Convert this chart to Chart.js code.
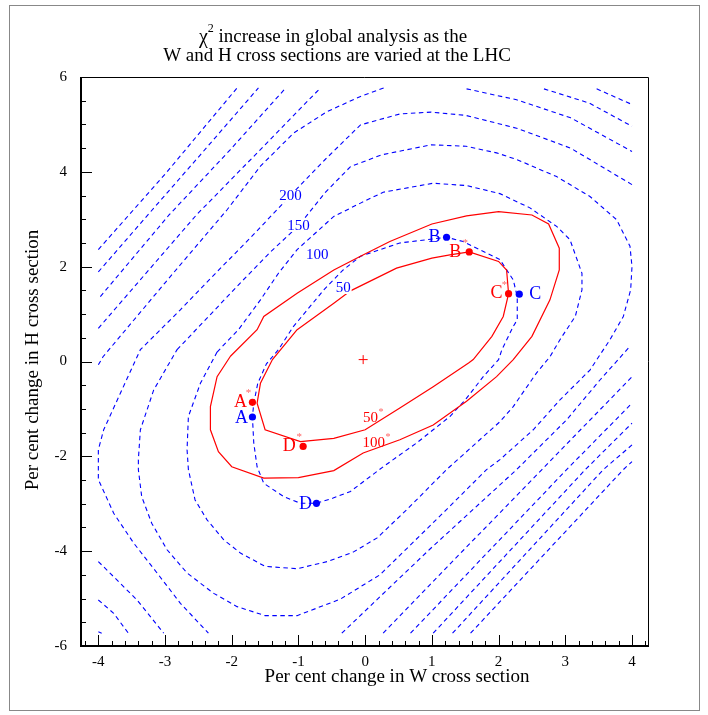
<!DOCTYPE html>
<html>
<head>
<meta charset="utf-8">
<script src="https://cdn.jsdelivr.net/npm/chart.js@4/dist/chart.umd.min.js"></script>
<style>
  html, body { margin: 0; padding: 0; background: #fff; }
</style>
</head>
<body>
<canvas id="chi2Chart" width="708" height="715"></canvas>
<script>
// contour lines, [W change, H change] in per cent
const blue50 = [[-1.08,0.73],[-0.62,1.51],[-0.33,1.93],[-0.07,2.22],[0.52,2.50],[1.22,2.62],[1.47,2.53],[2.02,2.15],[2.22,1.72],[2.28,1.37],[2.28,0.88],[2.22,0.74],[2.05,0.25],[2.0,0.04],[1.77,-0.32],[1.50,-0.81],[1.27,-1.16],[0.77,-1.72],[0.27,-2.22],[-0.22,-2.74],[-0.48,-2.88],[-0.73,-2.99],[-0.97,-2.99],[-1.22,-2.85],[-1.52,-2.57],[-1.62,-2.22],[-1.67,-1.72],[-1.69,-1.17],[-1.67,-0.88],[-1.61,-0.46],[-1.48,-0.05],[-1.30,0.25],[-1.08,0.73]];
const blue100 = [[-2.22,0.2],[-1.90,0.67],[-1.57,1.30],[-1.30,1.86],[-1.02,2.36],[-0.47,3.06],[-0.07,3.34],[0.27,3.57],[1.02,3.76],[1.52,3.71],[2.02,3.54],[2.47,3.24],[2.87,2.85],[3.07,2.57],[3.25,1.86],[3.25,1.51],[3.15,0.95],[2.92,0.46],[2.77,0.1],[2.57,-0.24],[2.22,-0.95],[2.02,-1.27],[1.22,-2.28],[0.62,-3.13],[0.18,-3.72],[-0.18,-4.02],[-0.57,-4.22],[-1.02,-4.37],[-1.50,-4.32],[-1.87,-4.04],[-2.12,-3.76],[-2.37,-3.34],[-2.55,-2.92],[-2.65,-2.28],[-2.67,-1.86],[-2.65,-1.16],[-2.47,-0.46],[-2.22,0.2]];
const blue150 = [[-2.82,0.25],[-2.32,0.99],[-1.87,1.66],[-1.42,2.31],[-1.00,2.86],[-0.60,3.56],[-0.22,4.11],[0.25,4.36],[0.99,4.57],[1.51,4.54],[1.97,4.40],[2.27,4.26],[2.87,3.90],[3.37,3.48],[3.77,2.99],[3.97,2.43],[4.0,2.0],[3.98,1.51],[3.87,0.95],[3.67,0.46],[3.37,-0.18],[2.92,-0.81],[2.52,-1.44],[2.02,-2.07],[1.82,-2.28],[1.2,-3.15],[0.62,-3.95],[0.22,-4.5],[-0.37,-5.01],[-1.02,-5.36],[-1.50,-5.36],[-1.92,-5.17],[-2.27,-4.89],[-2.67,-4.46],[-2.97,-3.97],[-3.20,-3.41],[-3.35,-2.85],[-3.40,-2.28],[-3.40,-2.07],[-3.37,-1.44],[-3.17,-0.60],[-2.82,0.25]];
const blue200Top = [[4.0,3.73],[3.08,4.50],[2.27,4.92],[1.51,5.19],[0.99,5.26],[0.52,5.22],[-0.07,4.99],[-0.60,4.26],[-1.12,3.50],[-1.72,2.61],[-2.25,1.85],[-2.77,1.09],[-3.07,0.67],[-3.37,0.25],[-3.67,-0.67],[-3.92,-1.44],[-4.0,-1.86],[-4.0,-2.49],[-3.77,-3.20],[-3.47,-3.83],[-3.12,-4.46],[-2.77,-5.10],[-2.35,-5.73]];
const blue200Low = [[-0.35,-5.73],[0.96,-3.97],[2.27,-2.28],[3.02,-1.23],[3.52,-0.39],[3.97,0.32]];
const blue250 = [
  [[-4.0,-0.07],[-3.93,0.1],[-3.0,1.66],[-2.07,3.2],[-1.57,4.12],[-1.07,4.82],[-0.57,5.27],[-0.07,5.59],[0.28,5.77]],
  [[1.52,5.75],[2.27,5.52],[3.08,5.14],[4.0,4.43]],
  [[0.27,-5.73],[1.48,-3.97],[2.65,-2.28],[4.0,-0.32]],
  [[-4.0,-4.22],[-3.77,-4.54],[-3.42,-5.03],[-3.02,-5.73]]
];
const blue300 = [
  [[-4.0,0.70],[-2.53,3.09],[-1.57,4.47],[-0.67,5.77]],
  [[2.68,5.75],[3.36,5.45],[4.0,4.96]],
  [[0.68,-5.73],[3.02,-2.28],[4.0,-0.88]],
  [[-4.0,-5.03],[-3.77,-5.31],[-3.55,-5.73]]
];
const blue350 = [
  [[-3.97,1.37],[-2.94,3.09],[-2.02,4.47],[-1.19,5.77]],
  [[3.47,5.75],[4.0,5.42]],
  [[1.02,-5.73],[3.30,-2.28],[4.0,-1.30]],
  [[-4.0,-5.70],[-3.95,-5.73]]
];
const blue400 = [
  [[-4.0,1.89],[-3.24,3.12],[-2.47,4.36],[-1.60,5.77]],
  [[1.31,-5.73],[3.57,-2.28],[4.0,-1.76]]
];
const blue450 = [
  [[-4.0,2.36],[-2.97,4.0],[-1.92,5.77]],
  [[1.58,-5.73],[3.87,-2.28],[4.0,-2.11]]
];
const red50 = [[-1.02,0.67],[-0.47,1.23],[-0.22,1.49],[0.47,1.97],[1.0,2.18],[1.27,2.25],[1.56,2.31],[2.0,2.11],[2.12,1.93],[2.15,1.43],[2.07,0.95],[1.90,0.53],[1.62,0.04],[1.55,-0.03],[1.02,-0.53],[0.52,-0.98],[0,-1.44],[-0.47,-1.62],[-0.97,-1.69],[-1.50,-1.44],[-1.62,-0.88],[-1.57,-0.46],[-1.39,0.04],[-1.02,0.67]];
const red100 = [[-2.02,0.11],[-1.62,0.67],[-1.52,0.95],[-1.02,1.44],[-0.47,1.93],[-0.07,2.22],[0.37,2.53],[1.0,2.90],[1.52,3.07],[2.0,3.16],[2.50,3.09],[2.75,2.90],[2.91,2.39],[2.91,1.93],[2.77,1.30],[2.50,0.53],[2.22,0.04],[1.97,-0.32],[1.52,-0.84],[1.02,-1.34],[0.52,-1.65],[-0.03,-1.93],[-0.47,-2.30],[-1.0,-2.45],[-1.52,-2.46],[-2.0,-2.22],[-2.20,-1.90],[-2.32,-1.44],[-2.32,-0.95],[-2.22,-0.32],[-2.02,0.11]];

// the marked fits
const pointNames = ['A', 'B', 'C', 'D'];
const redX = [-1.69, 1.56, 2.15, -0.93];
const redY = [-0.86, 2.31, 1.43, -1.79];
const blueX = [-1.69, 1.22, 2.31, -0.73];
const blueY = [-1.17, 2.62, 1.42, -2.99];
const bestFit = [[-0.03, 0.04]];

// contour level labels
const blueLevels = ['200', '150', '100', '50'];
const blueLevelX = [-1.12, -1.0, -0.72, -0.33];
const blueLevelY = [3.49, 2.86, 2.25, 1.55];
const redLevels = ['50', '100'];
const redLevelX = [0.08, 0.13];
const redLevelY = [-1.19, -1.72];

const xTicks = [-4, -3, -2, -1, 0, 1, 2, 3, 4];
const yTicks = [-6, -4, -2, 0, 2, 4, 6];

const SERIF = '"Liberation Serif", "DejaVu Serif", serif';
const BLUE = '#0000ff';
const RED = '#ff0000';

const pts = arr => arr.map(p => ({x: p[0], y: p[1]}));
const blueLine = arr => ({data: pts(arr), showLine: true, borderColor: BLUE, borderWidth: 1.1, borderDash: [4.5, 3.5], pointRadius: 0, fill: false});
const redLine = arr => ({data: pts(arr), showLine: true, borderColor: RED, borderWidth: 1.2, pointRadius: 0, fill: false});

const datasets = [
  {data: redX.map((v, i) => ({x: v, y: redY[i]})), pointRadius: 3.6, backgroundColor: RED, borderWidth: 0},
  {data: blueX.map((v, i) => ({x: v, y: blueY[i]})), pointRadius: 3.6, backgroundColor: BLUE, borderWidth: 0},
  {data: pts(bestFit), pointStyle: 'cross', pointRadius: 4.5, borderColor: RED, borderWidth: 1},
  redLine(red50), redLine(red100),
  blueLine(blue50), blueLine(blue100), blueLine(blue150),
  blueLine(blue200Top), blueLine(blue200Low)
];
[blue250, blue300, blue350, blue400, blue450].forEach(group => group.forEach(seg => datasets.push(blueLine(seg))));

// letters next to the dots: offsets in pixels from the dot
const redLabelOffset = [[-12, 0], [-14, 0], [-12, 0], [-14, 0]];
const blueLabelOffset = [[-11, 1], [-12, 0], [16, 0], [-11, 1]];

const overlay = {
  id: 'overlay',
  afterDraw(chart) {
    const {ctx, chartArea: a} = chart;
    const xs = chart.scales.x, ys = chart.scales.y;
    ctx.save();

    // page border
    ctx.strokeStyle = '#888';
    ctx.lineWidth = 1;
    ctx.strokeRect(9.5, 5.5, 690, 705);

    // plot frame
    ctx.strokeStyle = '#000';
    ctx.beginPath();
    ctx.moveTo(a.left, a.top + 0.5);
    ctx.lineTo(a.right + 0.5, a.top + 0.5);
    ctx.lineTo(a.right + 0.5, a.bottom);
    ctx.stroke();
    ctx.lineWidth = 2;
    ctx.beginPath();
    ctx.moveTo(a.left, a.top);
    ctx.lineTo(a.left, a.bottom);
    ctx.lineTo(a.right + 1, a.bottom);
    ctx.stroke();

    // ticks pointing inwards
    ctx.lineWidth = 1;
    ctx.beginPath();
    for (let i = -21; i <= 21; i++) {
      const px = Math.round(xs.getPixelForValue(i / 5)) + 0.5;
      const len = i % 5 === 0 ? 11 : 5;
      ctx.moveTo(px, a.bottom);
      ctx.lineTo(px, a.bottom - len);
    }
    for (let i = -11; i <= 11; i++) {
      const py = Math.round(ys.getPixelForValue(i / 2)) + 0.5;
      const len = i % 4 === 0 ? 11 : 5;
      ctx.moveTo(a.left, py);
      ctx.lineTo(a.left + len, py);
    }
    ctx.stroke();

    // title
    ctx.fillStyle = '#000';
    ctx.textBaseline = 'alphabetic';
    const l1a = '\u03c7', l1b = ' increase in global analysis as the';
    ctx.font = '20px ' + SERIF;
    const wChi = ctx.measureText(l1a).width;
    ctx.font = '12px ' + SERIF;
    const wTwo = ctx.measureText('2').width;
    ctx.font = '19px ' + SERIF;
    const wRest = ctx.measureText(l1b).width;
    let tx = 333 - (wChi + wTwo + wRest) / 2;
    ctx.textAlign = 'left';
    ctx.font = '20px ' + SERIF;
    ctx.fillText(l1a, tx, 43);
    ctx.font = '12px ' + SERIF;
    ctx.fillText('2', tx + wChi, 32);
    ctx.font = '19px ' + SERIF;
    ctx.fillText(l1b, tx + wChi + wTwo, 42);
    ctx.textAlign = 'center';
    ctx.fillText('W and H cross sections are varied at the LHC', 337, 61);

    // axis titles
    ctx.font = '19px ' + SERIF;
    ctx.textBaseline = 'middle';
    ctx.fillText('Per cent change in W cross section', 397, 677);
    ctx.save();
    ctx.translate(33, 360);
    ctx.rotate(-Math.PI / 2);
    ctx.fillText('Per cent change in H cross section', 0, 0);
    ctx.restore();

    // level labels, the lines are broken around them
    ctx.font = '15px ' + SERIF;
    blueLevels.forEach((t, i) => {
      const px = xs.getPixelForValue(blueLevelX[i]), py = ys.getPixelForValue(blueLevelY[i]);
      const w = ctx.measureText(t).width;
      ctx.fillStyle = '#fff';
      ctx.fillRect(px - w / 2 - 1, py - 6, w + 2, 12);
      ctx.fillStyle = BLUE;
      ctx.fillText(t, px, py);
    });
    redLevels.forEach((t, i) => {
      const px = xs.getPixelForValue(redLevelX[i]), py = ys.getPixelForValue(redLevelY[i]);
      ctx.font = '15px ' + SERIF;
      ctx.fillStyle = RED;
      const w = ctx.measureText(t).width;
      ctx.fillText(t, px, py);
      ctx.font = '10px ' + SERIF;
      ctx.fillStyle = '#ff6666';
      ctx.fillText('*', px + w / 2 + 3, py - 6);
    });

    // point letters
    ctx.font = '18px ' + SERIF;
    pointNames.forEach((t, i) => {
      const rx = xs.getPixelForValue(redX[i]), ry = ys.getPixelForValue(redY[i]);
      ctx.fillStyle = RED;
      ctx.fillText(t, rx + redLabelOffset[i][0], ry + redLabelOffset[i][1]);
      ctx.font = '11px ' + SERIF;
      ctx.fillStyle = '#ff6666';
      ctx.fillText('*', rx - 4, ry - 9);
      ctx.font = '18px ' + SERIF;
      const bx = xs.getPixelForValue(blueX[i]), by = ys.getPixelForValue(blueY[i]);
      ctx.fillStyle = BLUE;
      ctx.fillText(t, bx + blueLabelOffset[i][0], by + blueLabelOffset[i][1]);
    });
    ctx.restore();
  }
};

new Chart(document.getElementById('chi2Chart').getContext('2d'), {
  type: 'scatter',
  data: {datasets: datasets},
  options: {
    responsive: false,
    animation: false,
    events: [],
    layout: {padding: {top: 77, right: 60, left: 0, bottom: 0}},
    plugins: {legend: {display: false}, tooltip: {enabled: false}, title: {display: false}},
    scales: {
      x: {
        type: 'linear', min: -4.26, max: 4.24,
        grid: {display: false, drawTicks: false},
        border: {display: false},
        afterBuildTicks: s => { s.ticks = xTicks.map(v => ({value: v})); },
        afterFit: s => { s.height = 69; },
        ticks: {padding: 7, color: '#000', font: {family: SERIF, size: 15}, callback: v => String(v)}
      },
      y: {
        type: 'linear', min: -6, max: 6,
        grid: {display: false, drawTicks: false},
        border: {display: false},
        afterBuildTicks: s => { s.ticks = yTicks.map(v => ({value: v})); },
        afterFit: s => { s.width = 81; },
        ticks: {padding: 14, color: '#000', font: {family: SERIF, size: 15}, callback: v => String(v)}
      }
    }
  },
  plugins: [overlay]
});
</script>
</body>
</html>
